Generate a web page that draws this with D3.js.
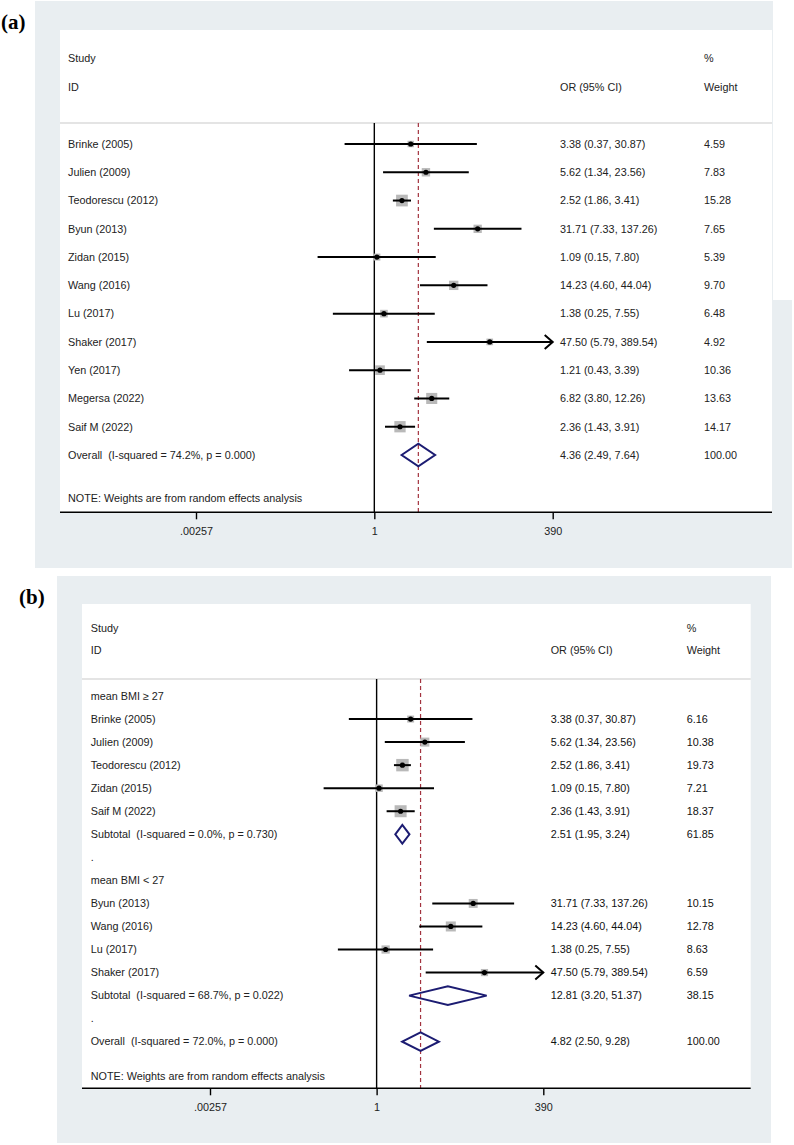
<!DOCTYPE html>
<html>
<head>
<meta charset="utf-8">
<script src="https://cdn.jsdelivr.net/npm/d3@7"></script>
<style>
  html, body { margin: 0; padding: 0; background: #ffffff; }
  svg { display: block; }
  text.t { font-family: "Liberation Sans", Arial, sans-serif; white-space: pre; }
</style>
</head>
<body>
<script>
// ---------------- DATA ----------------
// Panel (a): all studies
const studiesA = ["Brinke (2005)", "Julien (2009)", "Teodorescu (2012)", "Byun (2013)", "Zidan (2015)",
  "Wang (2016)", "Lu (2017)", "Shaker (2017)", "Yen (2017)", "Megersa (2022)", "Saif M (2022)"];
const orA     = [3.38, 5.62, 2.52, 31.71, 1.09, 14.23, 1.38, 47.50, 1.21, 6.82, 2.36];
const lowerA  = [0.37, 1.34, 1.86, 7.33, 0.15, 4.60, 0.25, 5.79, 0.43, 3.80, 1.43];
const upperA  = [30.87, 23.56, 3.41, 137.26, 7.80, 44.04, 7.55, 389.54, 3.39, 12.26, 3.91];
const weightA = [4.59, 7.83, 15.28, 7.65, 5.39, 9.70, 6.48, 4.92, 10.36, 13.63, 14.17];
const overallLabelA = "Overall  (I-squared = 74.2%, p = 0.000)";
const overallA = [4.36, 2.49, 7.64, 100.00]; // OR, lower, upper, weight

// Panel (b): subgroups by mean BMI
const groupLabelsB = ["mean BMI \u2265 27", "mean BMI < 27"];
const studiesB = ["Brinke (2005)", "Julien (2009)", "Teodorescu (2012)", "Zidan (2015)", "Saif M (2022)",
  "Byun (2013)", "Wang (2016)", "Lu (2017)", "Shaker (2017)"];
const groupB   = [0, 0, 0, 0, 0, 1, 1, 1, 1];
const orB      = [3.38, 5.62, 2.52, 1.09, 2.36, 31.71, 14.23, 1.38, 47.50];
const lowerB   = [0.37, 1.34, 1.86, 0.15, 1.43, 7.33, 4.60, 0.25, 5.79];
const upperB   = [30.87, 23.56, 3.41, 7.80, 3.91, 137.26, 44.04, 7.55, 389.54];
const weightB  = [6.16, 10.38, 19.73, 7.21, 18.37, 10.15, 12.78, 8.63, 6.59];
const subLabelsB = ["Subtotal  (I-squared = 0.0%, p = 0.730)", "Subtotal  (I-squared = 68.7%, p = 0.022)"];
const subOrB     = [2.51, 12.81];
const subLowerB  = [1.95, 3.20];
const subUpperB  = [3.24, 51.37];
const subWeightB = [61.85, 38.15];
const overallLabelB = "Overall  (I-squared = 72.0%, p = 0.000)";
const overallB = [4.82, 2.50, 9.28, 100.00];

// Axis
const axisTicks = [0.00257, 1, 390];
const axisTickLabels = [".00257", "1", "390"];
const noteText = "NOTE: Weights are from random effects analysis";

// ---------------- DRAWING ----------------
const W = 794, H = 1145;
const svg = d3.select("body").append("svg").attr("width", W).attr("height", H);
svg.append("rect").attr("width", W).attr("height", H).attr("fill", "#ffffff");

const GREY = "#e9eef1";
const f2 = d3.format(".2f");
const ciText = (o, l, u) => `${f2(o)} (${f2(l)}, ${f2(u)})`;

function buildRowsA() {
  const rows = studiesA.map((s, i) => ({type: "study", label: s, or: orA[i], lo: lowerA[i], hi: upperA[i], w: weightA[i]}));
  rows.push({type: "diamond", label: overallLabelA, or: overallA[0], lo: overallA[1], hi: overallA[2], w: overallA[3]});
  return rows;
}
function buildRowsB() {
  const rows = [];
  groupLabelsB.forEach((gl, gi) => {
    rows.push({type: "label", label: gl});
    studiesB.forEach((s, i) => {
      if (groupB[i] === gi) rows.push({type: "study", label: s, or: orB[i], lo: lowerB[i], hi: upperB[i], w: weightB[i]});
    });
    rows.push({type: "diamond", label: subLabelsB[gi], or: subOrB[gi], lo: subLowerB[gi], hi: subUpperB[gi], w: subWeightB[gi]});
    rows.push({type: "label", label: "."});
  });
  rows.push({type: "diamond", label: overallLabelB, or: overallB[0], lo: overallB[1], hi: overallB[2], w: overallB[3]});
  return rows;
}

function drawPanel(cfg, rows, refOR) {
  const g = svg.append("g");
  // backgrounds
  cfg.greys.forEach(r => g.append("rect").attr("x", r[0]).attr("y", r[1]).attr("width", r[2] - r[0]).attr("height", r[3] - r[1]).attr("fill", GREY));
  g.append("rect").attr("x", cfg.wx0).attr("y", cfg.wy0).attr("width", cfg.wx1 - cfg.wx0).attr("height", cfg.axisY - cfg.wy0).attr("fill", "#ffffff");

  // panel letter
  svg.append("text").attr("x", cfg.letterX).attr("y", cfg.letterY)
    .attr("font-weight", "bold").attr("font-size", 21).attr("fill", "#000")
    .style("font-family", "'Liberation Serif', 'Times New Roman', serif").text(cfg.letter);

  const x = d3.scaleLog().domain([axisTicks[0], axisTicks[2]]).range(cfg.xRange);
  const y = d3.scaleLinear().domain([0, rows.length - 1]).range([cfg.firstY, cfg.lastY]);
  const fs = 10.8;
  const txt = (xx, yy, s, fill) => g.append("text").attr("class", "t").attr("x", xx).attr("y", yy).attr("dy", "0.35em")
      .attr("xml:space", "preserve")
      .attr("font-size", fs).attr("fill", fill || "#222").text(s);

  // header
  txt(cfg.labelX, cfg.studyY, "Study");
  txt(cfg.labelX, cfg.idY, "ID");
  txt(cfg.wX, cfg.studyY, "%");
  txt(cfg.orX, cfg.idY, "OR (95% CI)");
  txt(cfg.wX, cfg.idY, "Weight");
  g.append("line").attr("x1", cfg.wx0).attr("x2", cfg.wx1).attr("y1", cfg.headY).attr("y2", cfg.headY)
    .attr("stroke", "#c9c9c9").attr("stroke-width", 1.2);

  // null line and reference dashed line
  g.append("line").attr("x1", x(1)).attr("x2", x(1)).attr("y1", cfg.headY).attr("y2", cfg.axisY)
    .attr("stroke", "#000").attr("stroke-width", 1.4);
  g.append("line").attr("x1", x(refOR)).attr("x2", x(refOR)).attr("y1", cfg.headY).attr("y2", cfg.axisY)
    .attr("stroke", "#a3333f").attr("stroke-width", 1.2).attr("stroke-dasharray", "4,3");

  const xmax = axisTicks[2];
  rows.forEach((r, i) => {
    const yy = y(i);
    txt(cfg.labelX, yy, r.label);
    if (r.type === "study") {
      const side = cfg.sqK * Math.sqrt(r.w);
      g.append("rect").attr("x", x(r.or) - side / 2).attr("y", yy - side / 2).attr("width", side).attr("height", side)
        .attr("fill", "#b9b9b9");
      const arrow = r.hi >= xmax * 0.99;
      const xhi = arrow ? x(xmax) : x(r.hi);
      g.append("line").attr("x1", x(r.lo)).attr("x2", xhi).attr("y1", yy).attr("y2", yy)
        .attr("stroke", "#000").attr("stroke-width", 2);
      if (arrow) {
        g.append("path").attr("d", `M${xhi - 8},${yy - 7} L${xhi},${yy} L${xhi - 8},${yy + 7}`)
          .attr("fill", "none").attr("stroke", "#000").attr("stroke-width", 2);
      }
      g.append("circle").attr("cx", x(r.or)).attr("cy", yy).attr("r", 2.6).attr("fill", "#000");
      txt(cfg.orX, yy, ciText(r.or, r.lo, r.hi), cfg.numFill);
      txt(cfg.wX, yy, f2(r.w), cfg.numFill);
    } else if (r.type === "diamond") {
      const h = cfg.dH;
      g.append("path").attr("d", `M${x(r.lo)},${yy} L${x(r.or)},${yy - h} L${x(r.hi)},${yy} L${x(r.or)},${yy + h} Z`)
        .attr("fill", "none").attr("stroke", "#1c1c72").attr("stroke-width", 2);
      txt(cfg.orX, yy, ciText(r.or, r.lo, r.hi), cfg.numFill);
      txt(cfg.wX, yy, f2(r.w), cfg.numFill);
    }
  });

  // note
  txt(cfg.labelX, cfg.noteY, noteText);

  // axis
  g.append("line").attr("x1", cfg.wx0).attr("x2", cfg.wx1).attr("y1", cfg.axisY).attr("y2", cfg.axisY)
    .attr("stroke", "#000").attr("stroke-width", 1.4);
  const axis = d3.axisBottom(x).tickValues(axisTicks).tickSize(7).tickPadding(8)
    .tickFormat((d, i) => axisTickLabels[i]);
  const ag = g.append("g").attr("transform", `translate(0,${cfg.axisY})`).call(axis);
  ag.select(".domain").remove();
  ag.selectAll(".tick line").attr("stroke", "#000").attr("stroke-width", 1.4);
  ag.selectAll(".tick text").attr("font-size", fs).attr("fill", "#222")
    .style("font-family", "'Liberation Sans', Arial, sans-serif");
}

drawPanel({
  letter: "(a)", letterX: 1, letterY: 29,
  greys: [[35, 1, 773, 568], [773, 300, 792, 568]],
  wx0: 60, wx1: 772, wy0: 30,
  headY: 123, studyY: 58.3, idY: 87.7,
  firstY: 144, lastY: 455, noteY: 498.3, axisY: 512.3,
  xRange: [196, 552.7],
  labelX: 68, orX: 560, wX: 704,
  sqK: 3.0, dH: 11.3, numFill: "#222"
}, buildRowsA(), overallA[0]);

drawPanel({
  letter: "(b)", letterX: 19, letterY: 604,
  greys: [[57, 576, 771, 1143]],
  wx0: 82, wx1: 750.7, wy0: 604,
  headY: 679, studyY: 628, idY: 650.7,
  firstY: 696, lastY: 1041.7, noteY: 1076, axisY: 1088.3,
  xRange: [210, 543.3],
  labelX: 90.7, orX: 550.7, wX: 686.7,
  sqK: 2.8, dH: 9.3, numFill: "#111"
}, buildRowsB(), overallB[0]);
</script>
</body>
</html>
